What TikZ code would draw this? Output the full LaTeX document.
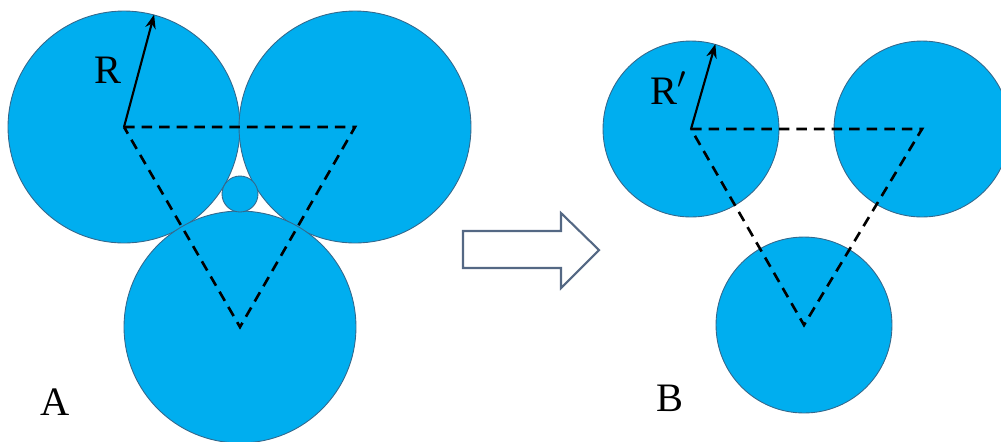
\documentclass[tikz,border=0pt]{standalone}
\usepackage{fontspec}
\setmainfont{Liberation Serif}
\usetikzlibrary{positioning,arrows.meta}
\definecolor{ballblue}{RGB}{0,174,239}
\definecolor{ballrim}{RGB}{52,104,140}
\definecolor{arrowrim}{RGB}{84,104,132}

\begin{document}
\begin{tikzpicture}[
    x=0.02cm, y=-0.02cm,
    font=\fontsize{23}{26}\selectfont,
    bigball/.style={
      circle, draw=ballrim, line width=0.5pt, fill=ballblue,
      inner sep=0pt, minimum size=4.64cm
    },
    smallball/.style={
      circle, draw=ballrim, line width=0.5pt, fill=ballblue,
      inner sep=0pt, minimum size=3.52cm
    },
    tinyball/.style={
      circle, draw=ballrim, line width=0.5pt, fill=ballblue,
      inner sep=0pt, minimum size=0.72cm
    },
    link/.style={line width=1.5pt, dash pattern=on 6pt off 4pt},
    radius/.style={-{Stealth[length=8pt,width=6pt]}, line width=1.2pt},
  ]
    \useasboundingbox (0,0) rectangle (1001,441);

    %── A: three touching spheres ───────────────────────────────────────
    \node[bigball] (a1) at (124,127) {};
    \node[bigball] (a2) at (355,127) {};
    \node[bigball] (a3) at (240,327) {};
    \node[tinyball] (a0) at (240,194) {};

    \draw[link] (a1.center) -- (a2.center) -- (a3.center) -- cycle;
    \draw[radius] (a1.center) -- (a1.75.5);
    \node (lr) at (108,70) {R};
    \node (la) at (55,402) {A};

    %── hollow arrow ────────────────────────────────────────────────────
    \draw[draw=arrowrim, line width=1.2pt, fill=white]
      (463,231) -- (561,231) -- (561,213) -- (599,250)
      -- (561,288) -- (561,268) -- (463,268) -- cycle;

    %── B: shrunk spheres, same centres ─────────────────────────────────
    \node[smallball] (b1) at (691,129) {};
    \node[smallball] (b2) at (922,129) {};
    \node[smallball] (b3) at (804,325) {};

    \draw[link] (b1.center) -- (b2.center) -- (b3.center) -- cycle;
    \draw[radius] (b1.center) -- (b1.74.5);
    \node (lrp) at (669,88) {R$'$};
    \node (lb) at (670,398) {B};

  \end{tikzpicture}
\end{document}
